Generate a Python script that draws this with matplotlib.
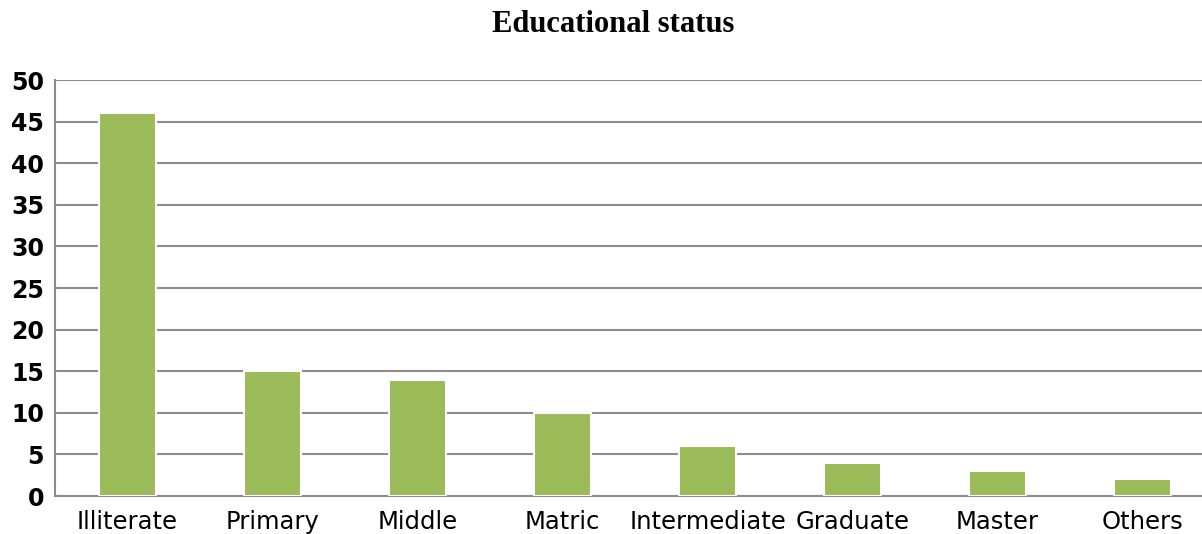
import matplotlib
matplotlib.use("Agg")
import matplotlib.pyplot as plt
import numpy as np

# Data
categories = ["Illiterate", "Primary", "Middle", "Matric", "Intermediate",
              "Graduate", "Master", "Others"]
values = [46, 15, 14, 10, 6, 4, 3, 2]
yticks = [0, 5, 10, 15, 20, 25, 30, 35, 40, 45, 50]

fig = plt.figure(figsize=(12.02, 5.34), dpi=100)
# plot area runs a little past the right edge of the image, as in the reference
ax = fig.add_axes([55 / 1202, 38 / 534, 1160 / 1202, 416 / 534])

x = np.arange(len(categories))
ax.bar(x, values, width=0.39, color="#9bbb59", edgecolor="white",
       linewidth=1.5, zorder=3)

ax.set_xlim(-0.5, len(categories) - 0.5)
ax.set_ylim(0, 50)
ax.set_yticks(yticks)
ax.set_yticklabels([str(t) for t in yticks], fontsize=17, fontweight="bold")
ax.set_xticks(x)
ax.set_xticklabels(categories, fontsize=17.5)
ax.tick_params(axis="both", length=0)
ax.tick_params(axis="y", pad=8)
ax.tick_params(axis="x", pad=10)

ax.yaxis.grid(True, color="#8c8c8c", linewidth=1.5, zorder=0)
ax.set_axisbelow(True)
for side in ["top", "right"]:
    ax.spines[side].set_visible(False)
for side in ["left", "bottom"]:
    ax.spines[side].set_color("#8c8c8c")
    ax.spines[side].set_linewidth(1.5)

fig.text(613 / 1202, 1 - 24 / 534, "Educational status", ha="center",
         va="center", fontsize=22, fontweight="bold",
         family=["Liberation Serif", "DejaVu Serif"])

fig.savefig("out.png", dpi=100)
